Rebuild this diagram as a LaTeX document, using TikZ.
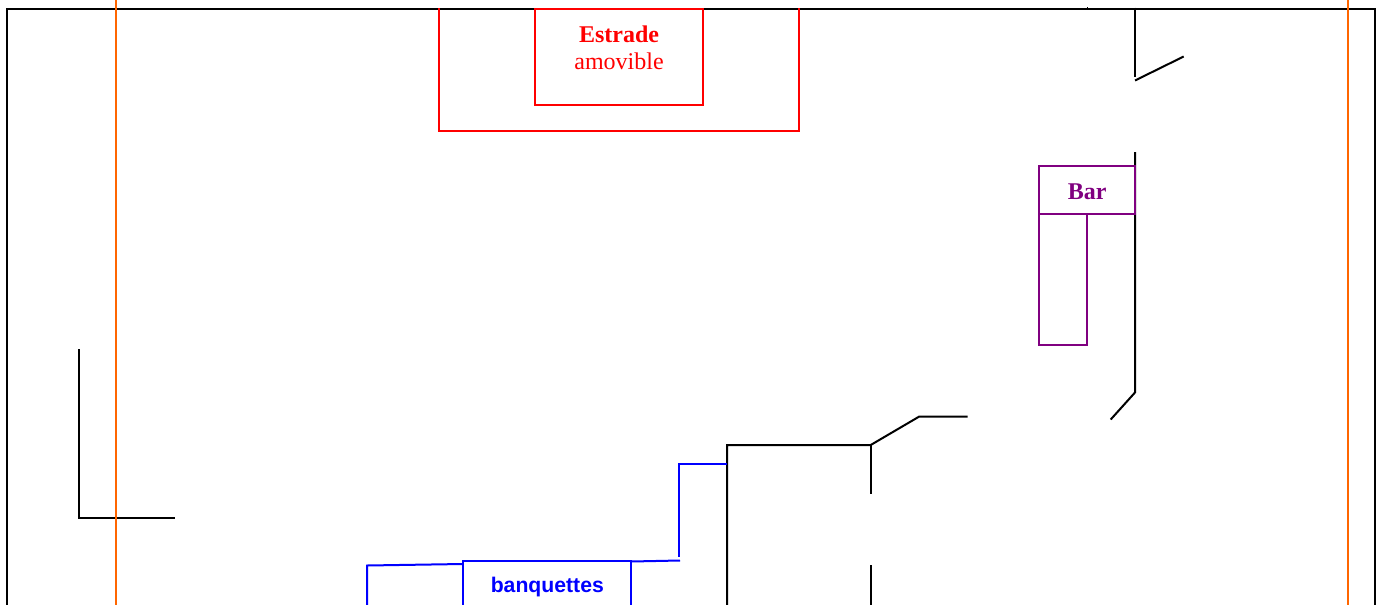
\documentclass[tikz,border=0pt]{standalone}
\usepackage{fontspec}
\setmainfont{Liberation Serif}
\newfontfamily\arialfont{Liberation Sans}
\definecolor{orangeline}{HTML}{FF6600}
\definecolor{barpurple}{HTML}{800080}
\tikzset{
  wall/.style={draw=black,line width=2pt,line cap=butt,line join=miter},
  guide/.style={draw=orangeline,line width=2pt},
  redbox/.style={draw=red,line width=2pt,line join=miter},
  purplebox/.style={draw=barpurple,line width=2pt,line join=miter},
  blueline/.style={draw=blue,line width=2pt,line join=miter},
  lbl/.style={inner sep=0pt,font=\fontsize{24}{27}\selectfont,align=center}
}
\begin{document}
\begin{tikzpicture}[x=1pt,y=-1pt]
\useasboundingbox (0,0) rectangle (1377,605);
% outer frame
\draw[wall] (7,605) -- (7,8.7) -- (1375,8.7) -- (1375,605);
% walls
\draw[wall,line width=1pt] (1087,7) -- (1087,9);
\draw[wall] (1135,7.5) -- (1135,77);
\draw[wall] (1135,80.5) -- (1183.7,56.5);
\draw[wall] (1135,152) -- (1135,392.5) -- (1110.7,419.5);
\draw[wall] (967.7,416.5) -- (919.3,416.5) -- (870.7,445) -- (727,445) -- (727,605);
\draw[wall] (870.7,445) -- (870.7,493.5);
\draw[wall] (870.7,565) -- (870.7,605);
\draw[wall] (79,349) -- (79,517.6) -- (175.3,517.6);
% orange guides
\draw[guide] (115.7,0) -- (115.7,605);
\draw[guide] (1347.7,0) -- (1347.7,605);
% stage
\draw[redbox] (439,8) -- (439,130.7) -- (799,130.7) -- (799,8);
\draw[redbox] (534.7,8.7) rectangle (703,104.7);
\node[lbl,text=red] (estrade) at (619,47.5) {\textbf{Estrade}\\amovible};
% bar
\draw[purplebox] (1039,165.7) rectangle (1135,213.7);
\draw[purplebox] (1039,213.7) rectangle (1087,345);
\node[lbl,text=barpurple,font=\fontsize{24}{27}\selectfont\bfseries] (bar) at (1087.3,191.5) {Bar};
% banquettes
\draw[blueline] (367.2,605) -- (367.2,565.5) -- (463,564);
\draw[blueline] (462.8,605) -- (462.8,561) -- (631.3,561) -- (631.3,605);
\draw[blueline] (631.3,561.5) -- (680,560.5);
\draw[blueline] (679.3,556.5) -- (679.3,464) -- (727,464);
\node[inner sep=0pt,text=blue,font=\arialfont\bfseries\fontsize{21.2}{24}\selectfont] (banq) at (547.3,587) {banquettes};
\end{tikzpicture}
\end{document}
